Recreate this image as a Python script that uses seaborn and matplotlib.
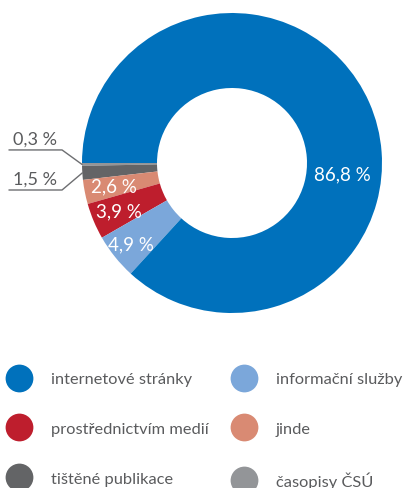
import matplotlib
matplotlib.use("Agg")
import matplotlib.pyplot as plt
import seaborn as sns
import numpy as np
from matplotlib.lines import Line2D

sns.set_theme(style="white")
plt.rcParams["font.family"] = ["Lato", "DejaVu Sans"]

# data, in drawing order (counter-clockwise from the left side)
categories = ["časopisy ČSÚ", "tištěné publikace", "jinde",
              "prostřednictvím medií", "informační služby", "internetové stránky"]
shares = [0.3, 1.5, 2.6, 3.9, 4.9, 86.8]
share_labels = ["0,3 %", "1,5 %", "2,6 %", "3,9 %", "4,9 %", "86,8 %"]
colors = ["#939598", "#636466", "#d98a73", "#be1e2d", "#7ba7da", "#0071bc"]

# legend order (row by row, two columns)
legend_left = ["internetové stránky", "prostřednictvím medií", "tištěné publikace"]
legend_right = ["informační služby", "jinde", "časopisy ČSÚ"]

TEXT_GRAY = "#5a5b5d"

fig = plt.figure(figsize=(4.06, 4.89), dpi=100)
W, H = 406, 489
cx, cy, r = 232, 164, 150
ax = fig.add_axes([(cx - r) / W, (H - cy - r) / H, 2 * r / W, 2 * r / H])

wedges, _ = ax.pie(shares, colors=colors, startangle=180, counterclock=True,
                   radius=1.0, wedgeprops=dict(width=0.5, linewidth=0))
ax.set_xlim(-1, 1)
ax.set_ylim(-1, 1)
ax.axis("off")

# labels inside the ring for the bigger slices
label_radius = [None, None, 0.80, 0.82, 0.86, 0.74]
angle_shift = [0, 0, 0, 0, 0, -29.5]
for w, txt, lr, sh in zip(wedges, share_labels, label_radius, angle_shift):
    if lr is None:
        continue
    mid = np.deg2rad((w.theta1 + w.theta2) / 2 + sh)
    ax.text(lr * np.cos(mid), lr * np.sin(mid), txt, color="white",
            ha="center", va="center", fontsize=13.5)

# leader lines for the two smallest slices
line_y = [0.087, -0.18]
for w, txt, ly in zip(wedges[:2], share_labels[:2], line_y):
    mid = np.deg2rad((w.theta1 + w.theta2) / 2)
    x0, y0 = np.cos(mid), np.sin(mid)
    ax.plot([x0, -1.133, -1.487], [y0, ly, ly], color="#6d6e71",
            linewidth=1.0, clip_on=False)
    ax.text(-1.46, ly + 0.02, txt, color=TEXT_GRAY, ha="left", va="bottom",
            fontsize=13, clip_on=False)

color_of = dict(zip(categories, colors))


def make_legend(names, x_anchor):
    handles = [Line2D([], [], linestyle="none", marker="o", markersize=20,
                      markerfacecolor=color_of[n], markeredgewidth=0)
               for n in names]
    fig.legend(handles, names, loc="upper left",
               bbox_to_anchor=(x_anchor / W, 1 - 373 / H),
               frameon=False, fontsize=11.8, labelcolor=TEXT_GRAY,
               handlelength=1.4, handletextpad=1.2, labelspacing=2.15,
               borderpad=0, borderaxespad=0)


make_legend(legend_left, 8)
make_legend(legend_right, 233)

fig.savefig("out.png", dpi=100)
